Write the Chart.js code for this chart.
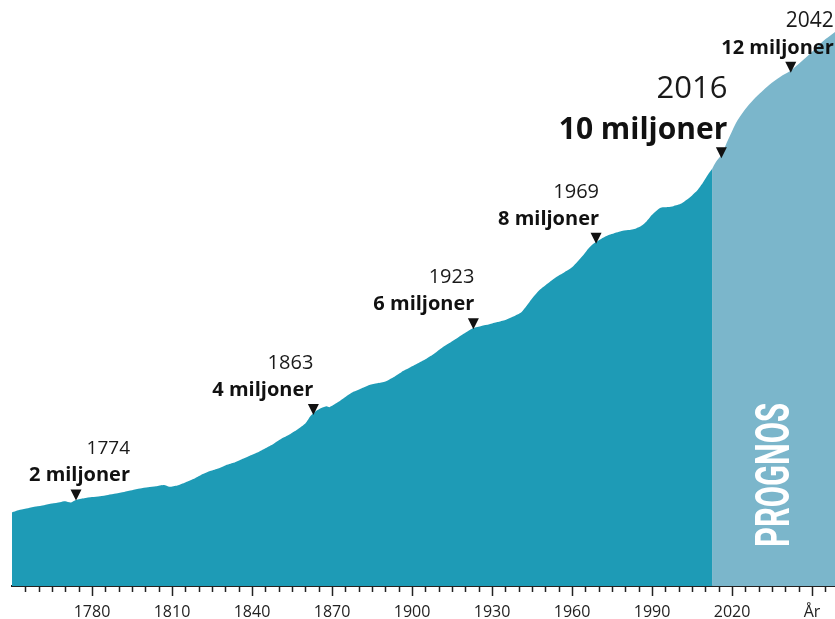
<!DOCTYPE html>
<html>
<head>
<meta charset="utf-8">
<script src="https://cdn.jsdelivr.net/npm/chart.js@4.4.1/dist/chart.umd.min.js"></script>
<style>
  body { margin: 0; background: #fff; }
  #wrap { width: 835px; height: 619px; }
</style>
</head>
<body>
<div id="wrap"><canvas id="myChart" width="835" height="619"></canvas></div>
<script>
// folkmängd i miljoner
let years = [1750,1753,1756,1759,1762,1765,1768,1770,1772,1774,1777,1780,1783,1786,1789,1792,1795,1798,
  1801,1804,1807,1809,1812,1815,1818,1821,1824,1827,1830,1833,1836,1839,1842,1845,1848,1851,1854,1857,
  1860,1862,1864,1866,1868,1869,1872,1875,1878,1881,1884,1887,1890,1893,1896,1899,1902,1905,1908,1911,
  1914,1917,1920,1923,1926,1929,1932,1935,1938,1941,1943,1945,1948,1951,1954,1957,1960,1962,1964,1966,
  1968,1971,1974,1978,1981,1984,1986,1988,1990,1993,1996,1998,2001,2003,2005,2007,2009,2011,2012.5]
let population = [1.72,1.78,1.82,1.86,1.89,1.93,1.96,1.98,1.95,2.01,2.05,2.08,2.10,2.13,2.16,2.20,2.24,2.28,
  2.31,2.33,2.36,2.32,2.35,2.42,2.50,2.60,2.68,2.74,2.82,2.88,2.96,3.04,3.12,3.22,3.32,3.44,3.54,3.66,
  3.80,3.98,4.09,4.16,4.20,4.18,4.29,4.42,4.54,4.62,4.70,4.74,4.78,4.88,5.00,5.10,5.20,5.30,5.42,5.56,
  5.68,5.80,5.92,6.03,6.08,6.12,6.17,6.22,6.30,6.40,6.55,6.72,6.93,7.08,7.22,7.33,7.45,7.58,7.72,7.88,
  8.00,8.12,8.21,8.29,8.32,8.36,8.42,8.53,8.68,8.84,8.86,8.88,8.94,9.03,9.13,9.25,9.42,9.62,9.75]

let prognosYears = [2012.5,2014,2016,2018,2020,2022,2025,2028,2031,2034,2038,2042,2046,2050,2054,2058.6]
let prognosPopulation = [9.75,9.92,10.08,10.36,10.63,10.88,11.15,11.37,11.55,11.72,11.9,12.05,12.26,12.49,12.73,12.95]

let tickYears = [1780,1810,1840,1870,1900,1930,1960,1990,2020,2050]
let tickLabels = ["1780","1810","1840","1870","1900","1930","1960","1990","2020","År"]

let markYears = [1774,1863,1923,1969,2016,2042]
let markValues = [2,4,6,8,10,12]
let markLabels = ["2 miljoner","4 miljoner","6 miljoner","8 miljoner","10 miljoner","12 miljoner"]

// text placement for the markers
let markShiftX = [54,0,1,3,6,43]
let yearSize = [19,20,20,20,31,21]
let labelSize = [20,20,20,20,30,20]

let dark = "#1e9bb6"
let light = "#7bb6cb"

let toPoints = (xs, ys) => xs.map((x, i) => ({ x: x, y: ys[i] }))

// small and large tick marks under the axis line
let axisTicks = {
  id: "axisTicks",
  afterDraw(chart) {
    let ctx = chart.ctx
    let x = chart.scales.x
    ctx.save()
    ctx.strokeStyle = "#222"
    ctx.lineWidth = 1.5
    for (let yr = 1755; yr <= 2055; yr += 5) {
      let px = Math.round(x.getPixelForValue(yr)) + 0.5
      let len = tickYears.includes(yr) ? 9 : 5
      ctx.beginPath()
      ctx.moveTo(px, x.top + 1)
      ctx.lineTo(px, x.top + 1 + len)
      ctx.stroke()
    }
    ctx.restore()
  }
}

// arrows with year and "miljoner" label
let markers = {
  id: "markers",
  afterDatasetsDraw(chart) {
    let ctx = chart.ctx
    let x = chart.scales.x
    let y = chart.scales.y
    ctx.save()
    markYears.forEach((yr, i) => {
      let px = x.getPixelForValue(yr)
      let py = y.getPixelForValue(markValues[i])
      ctx.fillStyle = "#111"
      ctx.beginPath()
      ctx.moveTo(px - 5.5, py - 11)
      ctx.lineTo(px + 5.5, py - 11)
      ctx.lineTo(px, py)
      ctx.closePath()
      ctx.fill()

      let right = px + markShiftX[i]
      ctx.textAlign = "right"
      ctx.textBaseline = "alphabetic"
      ctx.font = "700 " + labelSize[i] + "px 'Open Sans'"
      ctx.fillText(markLabels[i], right, py - 19)
      ctx.fillStyle = "#1a1a1a"
      ctx.font = "400 " + yearSize[i] + "px 'Open Sans'"
      ctx.fillText(String(yr), right, py - (yearSize[i] > 25 ? 60 : 46))
    })
    ctx.restore()
  }
}

// vertical PROGNOS text in the forecast band
let prognosText = {
  id: "prognosText",
  afterDatasetsDraw(chart) {
    let ctx = chart.ctx
    let x = chart.scales.x
    let cx = (x.getPixelForValue(prognosYears[0]) + chart.chartArea.right) / 2 - 2
    let cy = 475
    ctx.save()
    ctx.font = "700 49px Roboto"
    let w = ctx.measureText("PROGNOS").width
    ctx.translate(cx, cy)
    ctx.rotate(-Math.PI / 2)
    ctx.scale(144 / w, 1)
    ctx.fillStyle = "#fff"
    ctx.textAlign = "center"
    ctx.textBaseline = "alphabetic"
    ctx.fillText("PROGNOS", 0, 17.5)
    ctx.restore()
  }
}

let ctx = document.getElementById("myChart")
let myChart = new Chart(ctx, {
  type: "line",
  data: {
    datasets: [{
      data: toPoints(years, population),
      fill: "origin",
      backgroundColor: dark,
      borderWidth: 0,
      pointRadius: 0,
      tension: 0.2
    }, {
      data: toPoints(prognosYears, prognosPopulation),
      fill: "origin",
      backgroundColor: light,
      borderWidth: 0,
      pointRadius: 0,
      tension: 0.3
    }]
  },
  options: {
    responsive: false,
    animation: false,
    devicePixelRatio: 1,
    layout: { padding: { left: 12, right: 0, top: 0, bottom: 0 } },
    plugins: { legend: { display: false }, tooltip: { enabled: false } },
    scales: {
      x: {
        type: "linear",
        min: 1750,
        max: 2058.6,
        afterBuildTicks: (scale) => {
          scale.ticks = tickYears.map((v) => ({ value: v }))
        },
        afterFit: (scale) => {
          scale.height = 33
        },
        grid: { display: false, drawTicks: true, tickLength: 9 },
        border: { display: true, color: "#222", width: 2 },
        ticks: {
          autoSkip: false,
          maxRotation: 0,
          padding: 8,
          color: "#222",
          font: { family: "'Open Sans'", size: 16 },
          callback: (value, index) => tickLabels[index]
        }
      },
      y: {
        display: false,
        min: 0,
        max: 13.7
      }
    }
  },
  plugins: [axisTicks, markers, prognosText]
})
</script>
</body>
</html>
